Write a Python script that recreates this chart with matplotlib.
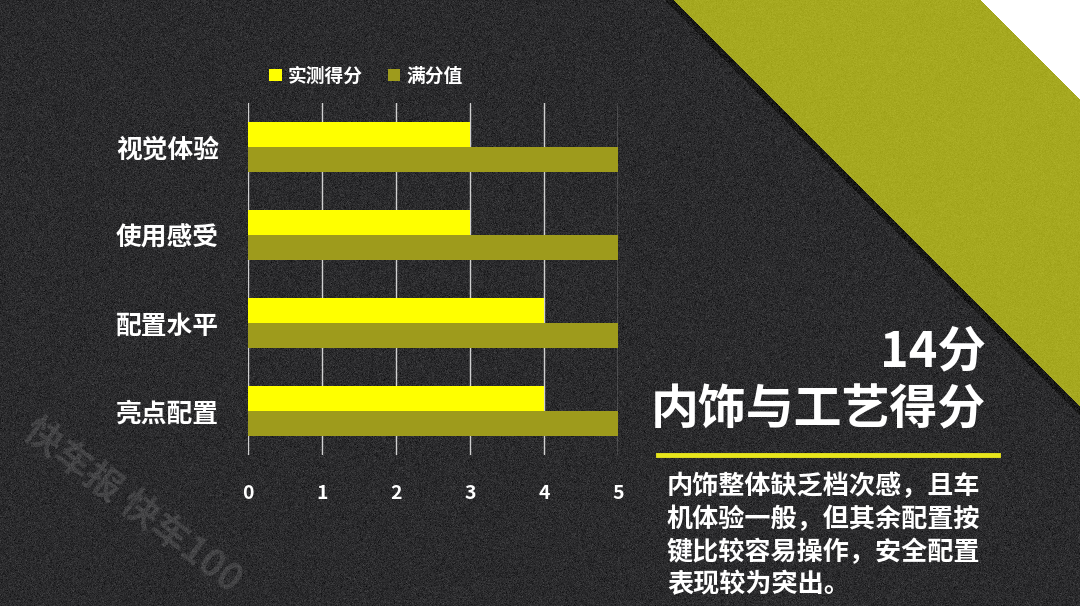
import numpy as np
import matplotlib.pyplot as plt
from matplotlib.lines import Line2D

plt.rcParams['font.family'] = ['Noto Sans CJK SC', 'DejaVu Sans']

# data
categories = ['视觉体验', '使用感受', '配置水平', '亮点配置']
measured = [3, 3, 4, 4]
full_marks = [5, 5, 5, 5]
series_names = ['实测得分', '满分值']
x_ticks = [0, 1, 2, 3, 4, 5]
score_title = '14分'
section_title = '内饰与工艺得分'
comment_lines = ['内饰整体缺乏档次感，且车',
                 '机体验一般，但其余配置按',
                 '键比较容易操作，安全配置',
                 '表现较为突出。']
watermark = '快车报 快车100'

yellow = '#ffff00'
olive = '#9e9b1c'

W, H = 1080, 606
fig = plt.figure(figsize=(W / 100, H / 100), dpi=100)

# background: dark textured board with diagonal band in the corner
bg_ax = fig.add_axes([0, 0, 1, 1], zorder=0)
yy, xx = np.mgrid[0:H, 0:W]
d = xx - yy
img = np.empty((H, W, 3))
img[:] = np.array([43, 43, 45]) / 255
img[(d > 664) & (d <= 673)] = np.array([24, 24, 24]) / 255
img[d > 673] = np.array([166, 169, 32]) / 255
img[d > 980] = 1.0
rng = np.random.default_rng(7)
noise = rng.normal(0, 0.035, (H, W, 1))
dark = d <= 673
img[dark] += noise[dark]
mid = (d > 673) & (d <= 980)
img[mid] += noise[mid] * 0.4
img = np.clip(img, 0, 1)
bg_ax.imshow(img, extent=[0, W, H, 0], aspect='auto', interpolation='nearest')
bg_ax.set_xlim(0, W)
bg_ax.set_ylim(H, 0)
bg_ax.axis('off')

# bar chart
ax = fig.add_axes([248 / W, 1 - 455 / H, 370 / W, 352 / H], zorder=2)
ax.patch.set_alpha(0)
y = np.arange(len(categories))
h = 0.285
b1 = ax.barh(y - h / 2, measured, height=h, color=yellow, label=series_names[0], zorder=3)
b2 = ax.barh(y + h / 2, full_marks, height=h, color=olive, label=series_names[1], zorder=3)
ax.set_ylim(len(categories) - 0.5, -0.5)
ax.set_xlim(0, 5)
ax.set_xticks(x_ticks)
ax.set_yticks(y, categories)
ax.grid(axis='x', color='#d0d0d0', linewidth=1, zorder=1)
ax.set_axisbelow(True)
for s in ax.spines.values():
    s.set_visible(False)
ax.tick_params(length=0, colors='white')
ax.tick_params(axis='x', pad=21, labelsize=14)
ax.tick_params(axis='y', pad=21, labelsize=18.5)
for lab in ax.get_yticklabels() + ax.get_xticklabels():
    lab.set_fontweight('bold')

fig.legend(handles=[b1, b2], loc='center', bbox_to_anchor=(366 / W, 1 - 76 / H),
           ncol=2, frameon=False, labelcolor='white',
           prop={'weight': 'bold', 'size': 13.5},
           handlelength=0.65, handleheight=0.65, columnspacing=1.3, handletextpad=0.35)

# right side text block
fig.text(986 / W, 1 - 352 / H, score_title, ha='right', va='center',
         color='white', fontsize=35, fontweight='bold')
fig.text(986 / W, 1 - 410 / H, section_title, ha='right', va='center',
         color='white', fontsize=34.5, fontweight='bold')
fig.add_artist(Line2D([658 / W, 998 / W], [1 - 455 / H] * 2, color='#e8e61c', lw=3.5))
for i, line in enumerate(comment_lines):
    fig.text(667 / W, 1 - (487 + 32.7 * i) / H, line, ha='left', va='center',
             color='white', fontsize=18.8, fontweight='bold')

# watermark
fig.text(133 / W, 1 - 505 / H, watermark, rotation=-37, ha='center', va='center',
         color='white', alpha=0.12, fontsize=27, fontweight='bold')

fig.savefig('out.png', dpi=100)
